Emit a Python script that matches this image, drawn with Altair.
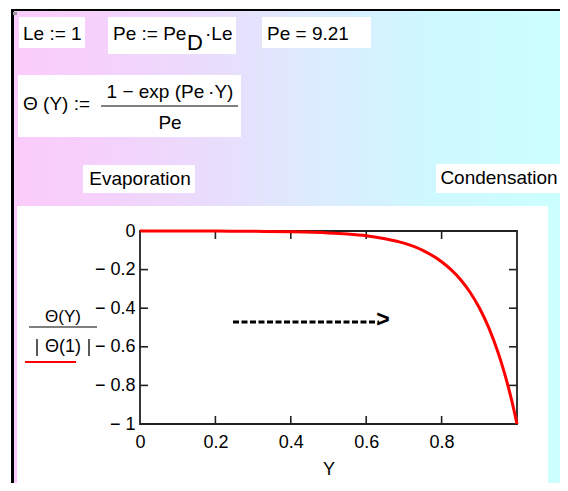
import altair as alt
import pandas as pd

# ---- data ----
Y_VALS = [0.0, 0.1, 0.2, 0.3, 0.4, 0.5, 0.55, 0.6, 0.65, 0.7, 0.75, 0.8, 0.825,
          0.85, 0.875, 0.9, 0.925, 0.95, 0.9625, 0.975, 0.9875, 1.0]
THETA_NORM = [0.0, -0.0003, -0.0006, -0.0016, -0.004, -0.010, -0.016, -0.025, -0.040,
              -0.063, -0.100, -0.159, -0.200, -0.251, -0.316, -0.398, -0.501, -0.631,
              -0.708, -0.794, -0.891, -1.0]
X_TICKS = [0.0, 0.2, 0.4, 0.6, 0.8]
Y_TICKS = [0.0, -0.2, -0.4, -0.6, -0.8, -1.0]
X_INNER_TICKS = [0.2, 0.4, 0.6, 0.8]
Y_INNER_TICKS = [-0.2, -0.4, -0.6, -0.8]

FONT = "Liberation Sans"
W, H = 377, 193
MATH = 19

curve = pd.DataFrame({"Y": Y_VALS, "T": THETA_NORM})
one = pd.DataFrame({"a": [0]})

xs = alt.Scale(domain=[0, 1], nice=False, zero=False)
ys = alt.Scale(domain=[-1, 0], nice=False, zero=False)

xaxis = alt.Axis(values=X_TICKS, domain=False, ticks=False, grid=False, labelFlush=False,
                 labelOverlap=False, labelFont=FONT, labelFontSize=18, labelColor="black",
                 labelPadding=9, title="Y", titleFont=FONT, titleFontSize=18,
                 titleFontWeight="normal", titleColor="black", titlePadding=9, zindex=1,
                 format=".1~f")
yaxis = alt.Axis(values=Y_TICKS, domain=False, ticks=False, grid=False, labelFlush=False,
                 labelOverlap=False, labelFont=FONT, labelFontSize=18, labelColor="black",
                 labelPadding=5, title="", zindex=1,
                 labelExpr="datum.value == 0 ? '0' : '\u2212 ' + format(abs(datum.value), '.1~f')")

base = alt.Chart(one)


def rect(x, x2, y, y2, **kw):
    return base.mark_rect(**kw).encode(x=alt.value(x), x2=alt.value(x2),
                                       y=alt.value(y), y2=alt.value(y2))


def text(t, x, y, size=MATH, align="left", weight="normal"):
    return base.mark_text(text=t, align=align, baseline="middle", font=FONT,
                          fontSize=size, fontWeight=weight, color="black").encode(
        x=alt.value(x), y=alt.value(y))


def hline(x, x2, y, color="black", width=1.2):
    return base.mark_rule(color=color, strokeWidth=width).encode(
        x=alt.value(x), x2=alt.value(x2), y=alt.value(y))


def vline(x, y, y2, color="black", width=1.3):
    return base.mark_rule(color=color, strokeWidth=width).encode(
        x=alt.value(x), y=alt.value(y), y2=alt.value(y2))


grad = alt.LinearGradient(
    gradient="linear", x1=0, y1=0, x2=1, y2=0,
    stops=[alt.GradientStop(color="#FBCCFB", offset=0),
           alt.GradientStop(color="#F7CFFB", offset=0.12),
           alt.GradientStop(color="#EADCFC", offset=0.35),
           alt.GradientStop(color="#DCECFE", offset=0.55),
           alt.GradientStop(color="#CEF8FF", offset=0.75),
           alt.GradientStop(color="#CCFFFF", offset=1)])

layers = [
    rect(-129, 460, -222, 370, color="black"),
    rect(-126, 428, -220, 370, color=grad),
    rect(-127, -123, -219, -216, color="#999999"),
    # white boxes
    rect(-121, -55, -214, -183, color="white"),
    rect(-32, 96, -214, -177, color="white"),
    rect(122, 231, -214, -183, color="white"),
    rect(-122, 101, -156, -94, color="white"),
    rect(-57, 55, -66, -38, color="white"),
    rect(296, 428, -67, -38, color="white"),
    rect(-123, 408, -25, 255, color="white"),
    # texts
    text("Le := 1", -117, -197),
    text("Pe := Pe", -27, -197),
    text("D", 47, -188, 22),
    text("\u00b7Le", 65, -197),
    text("Pe = 9.21", 127, -197),
    text("\u0398 (Y) :=", -117, -127),
    text("1 \u2212 exp (Pe\u2009\u00b7Y)", 30, -139, align="center"),
    hline(-39, 98, -125),
    text("Pe", 30, -108, align="center"),
    text("Evaporation", 0, -52, align="center"),
    text("Condensation", 359, -53, align="center"),
    # y label fraction
    text("\u0398(Y)", -77, 86, 17, align="center"),
    hline(-111, -43, 96),
    text("\u0398(1)", -77, 116, 18, align="center"),
    vline(-103, 108, 125),
    vline(-51, 108, 125),
    hline(-115, -64, 131, color="#FF0000", width=2.2),
    # frame
    rect(0, W, 0, H, filled=False, stroke="#222222", strokeWidth=1.8),
]

xt = pd.DataFrame({"t": X_INNER_TICKS})
yt = pd.DataFrame({"t": Y_INNER_TICKS})
tick_style = dict(color="#222222", strokeWidth=1.6)
layers += [
    alt.Chart(xt).mark_rule(**tick_style).encode(
        x=alt.X("t:Q", scale=xs, axis=xaxis), y=alt.value(0), y2=alt.value(8)),
    alt.Chart(xt).mark_rule(**tick_style).encode(
        x=alt.X("t:Q", scale=xs, axis=xaxis), y=alt.value(H), y2=alt.value(H - 8)),
    alt.Chart(yt).mark_rule(**tick_style).encode(
        y=alt.Y("t:Q", scale=ys, axis=yaxis), x=alt.value(0), x2=alt.value(8)),
    alt.Chart(yt).mark_rule(**tick_style).encode(
        y=alt.Y("t:Q", scale=ys, axis=yaxis), x=alt.value(W), x2=alt.value(W - 8)),
    alt.Chart(curve).mark_line(color="#FF0000", strokeWidth=3, interpolate="monotone",
                               clip=False).encode(
        x=alt.X("Y:Q", scale=xs, axis=xaxis),
        y=alt.Y("T:Q", scale=ys, axis=yaxis)),
    # dashed arrow
    base.mark_rule(color="black", strokeWidth=3.2, strokeDash=[6, 2.5]).encode(
        x=alt.value(93), x2=alt.value(239), y=alt.value(91)),
    text(">", 243, 89, 23, align="center", weight="bold"),
]

chart = alt.layer(*layers).properties(
    width=W, height=H,
    autosize=alt.AutoSizeParams(type="none"),
    padding={"left": 132, "top": 223, "right": 43, "bottom": 59},
    background="white",
).configure_view(stroke="transparent")

chart.save("out.html", embed_options={"renderer": "svg", "actions": False})
